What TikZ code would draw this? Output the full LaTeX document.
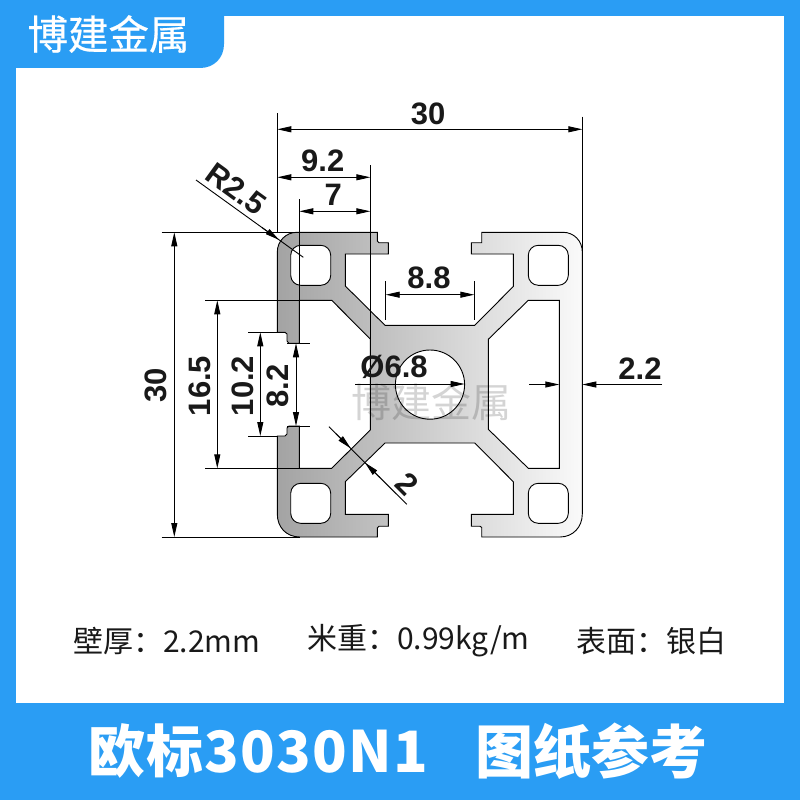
\documentclass[tikz,border=0pt]{standalone}
\usepackage{fontspec}
\setmainfont{Liberation Sans}
\newfontfamily\cjkfont{Noto Sans CJK SC}
\newfontfamily\cjkmedium[FakeBold=0.5]{Noto Sans CJK SC}
\newfontfamily\cjktitle[LetterSpace=2.2]{Noto Sans CJK SC Bold}
\usetikzlibrary{arrows.meta}
\definecolor{brandblue}{HTML}{2A9DF4}
\tikzset{
  dimline/.style={line width=0.9pt,black},
  dimarrow/.style={dimline,{Triangle[length=14pt,width=6pt]}-{Triangle[length=14pt,width=6pt]}},
  onearrow/.style={dimline,-{Triangle[length=14pt,width=6pt]}},
  dimtext/.style={inner sep=0pt,font=\fontsize{31}{31}\selectfont\bfseries,text=black!90},
  captiontext/.style={inner sep=0pt,font=\cjkfont\fontsize{30}{30}\selectfont,text=black!90},
  titletext/.style={inner sep=0pt,font=\cjkfont\bfseries\fontsize{58}{58}\selectfont,text=white},
}
\begin{document}
\begin{tikzpicture}[x=1pt,y=-1pt]
\useasboundingbox (0,0) rectangle (800,800);
% frame
\fill[brandblue] (0,0) rectangle (800,800);
\fill[white] (16,16) rectangle (784,703);
\fill[brandblue] (0,0) -- (224,0) -- (224,44) .. controls (224,58) and (214,68) .. (200,68) -- (0,68) -- cycle;
\node[inner sep=0pt,font=\cjkmedium\fontsize{40.5}{41}\selectfont,text=white] (logo) at (108.5,34) {博建金属};
% profile
\path[draw=black,line width=0.9pt,even odd rule,left color=black!36,right color=black!2]
  (277.3,252) .. controls (277.3,241) and (286,232.3) .. (297,232.3)
  -- (377.3,232.3) -- (377.3,241) -- (379,242.7) -- (388.3,242.7) -- (388.3,254) -- (345.3,254)
  -- (345.3,286) -- (385,325.3) -- (474.7,325.3) -- (513.3,286.5) -- (513.3,254) -- (471.3,254)
  -- (471.3,242.7) -- (481.7,242.7) -- (481.7,232.3) -- (563,232.3)
  .. controls (574,232.3) and (582.3,241) .. (582.3,252)
  -- (582.3,514) .. controls (582.3,527) and (573,537) .. (560,537)
  -- (481.7,537) -- (481.7,527.5) -- (480,526.2) -- (471.3,526.2) -- (471.3,514.3) -- (513.3,514.3)
  -- (513.3,481.7) -- (474.7,443) -- (385,443) -- (345.3,481.7) -- (345.3,514.3) -- (388.3,514.3)
  -- (388.3,526.2) -- (379,526.2) -- (377.3,528) -- (377.3,537) -- (300,537)
  .. controls (286,537) and (277.3,527) .. (277.3,514)
  -- (277.3,436) -- (285,436) -- (287,434) -- (287,428) -- (289,426) -- (299.3,426)
  -- (299.3,468.3) -- (331.7,468.3) -- (370.3,430) -- (370.3,339) -- (331.7,300.3) -- (299.3,300.3)
  -- (299.3,343.3) -- (289,343.3) -- (287,341) -- (287,334) -- (285,332.3) -- (277.3,332.3) -- cycle
  (488.3,339.3) -- (528.3,300.3) -- (559.3,300.3) -- (559.3,468.3) -- (528.3,468.3) -- (488.3,429.3) -- cycle
  (430,384.6) circle[radius=34.6pt]
  [rounded corners=10pt]
  (290.7,245.3) rectangle (330.7,285.3)
  (528.3,245.3) rectangle (568.3,285.3)
  (290.7,483.3) rectangle (330.7,523.3)
  (528.3,483.3) rectangle (568.3,523.3);
% watermark
\node[inner sep=0pt,font=\cjkfont\fontsize{40}{40}\selectfont,text=black,text opacity=0.17] (mark) at (431,402) {博建金属};
% extension lines
\draw[dimline] (277.3,113) -- (277.3,232.3);
\draw[dimline] (582.3,116.7) -- (582.3,252);
\draw[dimline] (370.3,165) -- (370.3,339);
\draw[dimline] (299.3,199) -- (299.3,343.3);
\draw[dimline] (161.7,232.3) -- (297,232.3);
\draw[dimline] (161.7,537) -- (300,537);
\draw[dimline] (205,300.3) -- (331.7,300.3);
\draw[dimline] (205,468.3) -- (331.7,468.3);
\draw[dimline] (248.3,332.3) -- (277.3,332.3);
\draw[dimline] (248.3,436) -- (277.3,436);
\draw[dimline] (287,343.3) -- (310,343.3);
\draw[dimline] (287,426) -- (310,426);
\draw[dimline] (385.7,281) -- (385.7,320);
\draw[dimline] (474.3,281) -- (474.3,320);
% dimension lines
\draw[dimarrow] (277.3,129.3) -- (582.3,129.3);
\draw[dimarrow] (277.3,177.3) -- (370.3,177.3);
\draw[dimarrow] (299.3,211.3) -- (370.3,211.3);
\draw[dimarrow] (385.7,294.7) -- (474.3,294.7);
\draw[dimarrow] (174.3,232.3) -- (174.3,537);
\draw[dimarrow] (217.3,300.3) -- (217.3,468.3);
\draw[dimarrow] (260.3,332.3) -- (260.3,436);
\draw[dimarrow] (296,343.3) -- (296,426);
\draw[onearrow] (355,384) -- (464.6,384);
\draw[onearrow] (529.3,384.5) -- (559.3,384.5);
\draw[onearrow] (662,384.5) -- (582.3,384.5);
\draw[dimline] (196,180) -- (303.3,257.3);
\draw[onearrow] (262,227.5) -- (279,239.8);
\draw[dimline] (329,426.7) -- (406.7,504.3);
\draw[onearrow] (336,433.7) -- (350.7,448.3);
\draw[onearrow] (380,477.7) -- (365,462.7);
% dimension texts
\node[dimtext] (d30top) at (428,114) {30};
\node[dimtext] (d92) at (322.7,161.3) {9.2};
\node[dimtext] (d7) at (333.3,195.3) {7};
\node[dimtext,rotate=-36] (dr) at (236.5,189) {R2.5};
\node[dimtext] (d88) at (429,278) {8.8};
\node[dimtext] (d68) at (394,367) {Ø6.8};
\node[dimtext] (d22) at (640,369) {2.2};
\node[dimtext,rotate=90] (d30left) at (156,385) {30};
\node[dimtext,rotate=90] (d165) at (199.7,386) {16.5};
\node[dimtext,rotate=90] (d102) at (242.8,386) {10.2};
\node[dimtext,rotate=90] (d82) at (278,385.8) {8.2};
\node[dimtext,rotate=-45] (d2) at (407,484) {2};
% captions
\node[captiontext,anchor=west] (cap1) at (73,641) {壁厚：2.2mm};
\node[captiontext,anchor=west] (cap2) at (307,641) {米重：0.99kg/m};
\node[captiontext,anchor=west] (cap3) at (576,641) {表面：银白};
% title
\node[titletext,anchor=west,font=\cjkfont\bfseries\fontsize{57}{57}\selectfont\addfontfeature{LetterSpace=2.2}] (title1) at (88,751) {欧标3030N1};
\node[titletext,anchor=west] (title2) at (475.5,751) {图纸参考};
\end{tikzpicture}
\end{document}
